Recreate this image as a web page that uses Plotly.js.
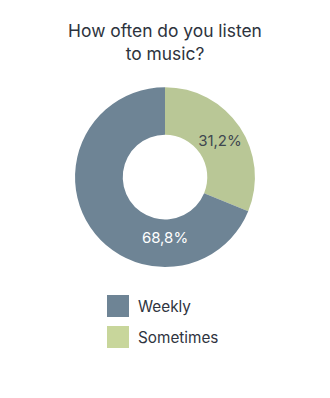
<!DOCTYPE html>
<html>
<head>
<meta charset="utf-8">
<script src="https://cdn.plot.ly/plotly-3.0.1.min.js"></script>
<style>html,body{margin:0;padding:0;background:#fff;}#chart{width:330px;height:398px;}</style>
</head>
<body>
<div id="chart"></div>
<script>
const categories = ["Sometimes", "Weekly"];
const values = [31.2, 68.8];
const sliceColors = ["#b9c796", "#6e8495"];
const textColors = ["#3f4750", "#ffffff"];
const legendOrder = ["Weekly", "Sometimes"];
const legendColors = ["#6e8495", "#c8d69b"];

const font = "Inter, 'Noto Sans', sans-serif";

const trace = {
  type: "pie",
  labels: categories,
  values: values,
  sort: false,
  direction: "clockwise",
  rotation: 0,
  hole: 0.47,
  marker: {colors: sliceColors, line: {width: 0}},
  texttemplate: "%{percent:.1%}",
  textposition: "inside",
  insidetextorientation: "horizontal",
  textfont: {family: font, size: 15, color: textColors},
  showlegend: false,
  domain: {x: [0.227, 0.773], y: [0.329, 0.781]},
  hoverinfo: "none"
};

const shapes = [];
const annotations = [];
legendOrder.forEach((name, i) => {
  const yTop = 295 + i * 31;
  shapes.push({
    type: "rect", xref: "paper", yref: "paper",
    x0: 107 / 330, x1: 129 / 330,
    y0: 1 - (yTop + 22) / 398, y1: 1 - yTop / 398,
    fillcolor: legendColors[i], line: {width: 0}
  });
  annotations.push({
    xref: "paper", yref: "paper", x: 136 / 330, y: 1 - (yTop + 11) / 398,
    xanchor: "left", yanchor: "middle", showarrow: false,
    text: name, font: {family: font, size: 15.3, color: "#2f3440"}
  });
});

const layout = {
  width: 330, height: 398,
  margin: {l: 0, r: 0, t: 0, b: 0},
  paper_bgcolor: "#ffffff",
  separators: ",.",
  title: {
    text: "How often do you listen<br>to music?",
    x: 0.5, xanchor: "center",
    y: 1 - 37 / 398, yanchor: "middle",
    font: {family: font, size: 17.4, color: "#2d333d"}
  },
  shapes: shapes,
  annotations: annotations
};

Plotly.newPlot("chart", [trace], layout, {displayModeBar: false, staticPlot: true});
</script>
</body>
</html>
